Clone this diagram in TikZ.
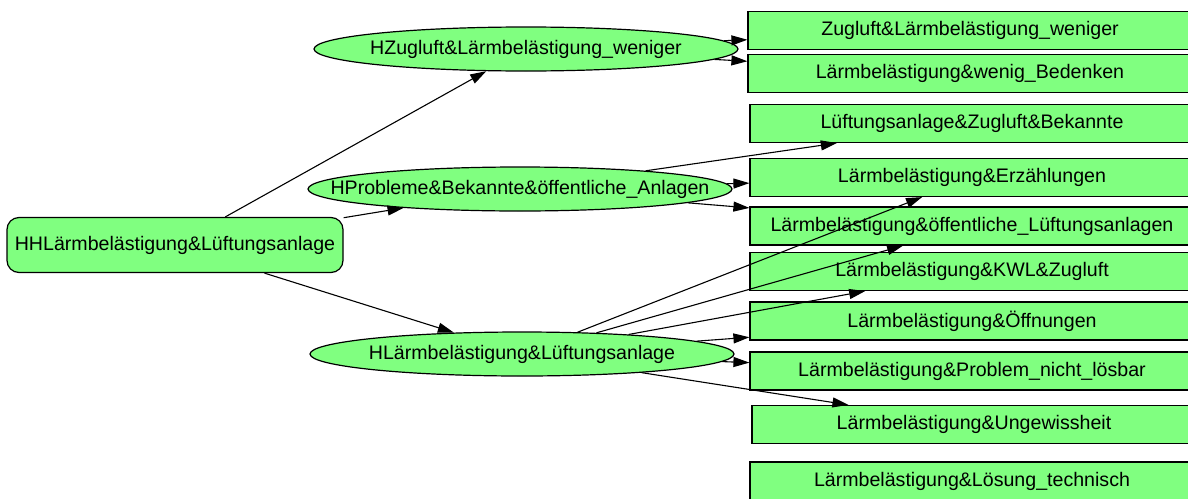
\documentclass[tikz,border=0pt]{standalone}
\usepackage{fontspec}
\setmainfont{Liberation Sans}
\usepackage{xcolor}
\usetikzlibrary{shapes.geometric, arrows.meta}
\definecolor{nodegreen}{RGB}{128,255,128}
% text of a hub: no width of its own, so the ellipse keeps its size
\newcommand{\hubtext}[1]{\makebox[0pt]{#1}}

\begin{document}
\begin{tikzpicture}[x=1pt, y=-1pt,
        % Define the styles for the three kinds of nodes and the edges
        root/.style={draw, fill=nodegreen, line width=1.2pt, rounded corners=12pt,
            minimum width=336pt, minimum height=55pt, inner sep=0pt},
        hub/.style={draw, fill=nodegreen, line width=1.2pt, ellipse,
            minimum width=424pt, minimum height=44pt, inner sep=0pt},
        leaf/.style={draw, fill=nodegreen, line width=1.2pt,
            minimum width=444pt, minimum height=38pt, inner sep=0pt},
        edge/.style={draw, line width=1.1pt, -{Triangle[length=16pt, width=10pt]}}]

        \useasboundingbox (0,0) rectangle (1188,498);
        \fontsize{19.6}{22}\selectfont

        % 1. The root on the left
        \node[root] (HH) at (175,245) {HHLärmbelästigung\&Lüftungsanlage};

        % 2. The three ellipses in the middle
        \node[hub] (HZug) at (526,49) {\hubtext{HZugluft\&Lärmbelästigung\_weniger}};
        \node[hub] (HProb) at (520,189) {\hubtext{HProbleme\&Bekannte\&öffentliche\_Anlagen}};
        \node[hub] (HLaerm) at (522,354) {\hubtext{HLärmbelästigung\&Lüftungsanlage}};

        % 3. The boxes on the right (cut by the right edge)
        \node[leaf] (zugWeniger) at (970,30.5) {Zugluft\&Lärmbelästigung\_weniger};
        \node[leaf] (wenigBedenken) at (970,73.5) {Lärmbelästigung\&wenig\_Bedenken};
        \node[leaf] (lueftBekannte) at (972,123.5) {Lüftungsanlage\&Zugluft\&Bekannte};
        \node[leaf] (erzaehlungen) at (972,177.5) {Lärmbelästigung\&Erzählungen};
        \node[leaf] (oeffLueft) at (972,226) {Lärmbelästigung\&öffentliche\_Lüftungsanlagen};
        \node[leaf] (kwlZug) at (972,271.5) {Lärmbelästigung\&KWL\&Zugluft};
        \node[leaf] (oeffnungen) at (972,321) {Lärmbelästigung\&Öffnungen};
        \node[leaf] (nichtLoesbar) at (972,371) {Lärmbelästigung\&Problem\_nicht\_lösbar};
        \node[leaf] (ungewiss) at (974,424.5) {Lärmbelästigung\&Ungewissheit};
        \node[leaf] (technisch) at (972,481) {Lärmbelästigung\&Lösung\_technisch};

        % 4. Edges from the root
        \draw[edge] (HH) -- (HZug);
        \draw[edge] (HH) -- (HProb);
        \draw[edge] (HH) -- (HLaerm);

        % 5. Edges from the ellipses
        \draw[edge] (HZug) -- (zugWeniger);
        \draw[edge] (HZug) -- (wenigBedenken);
        \draw[edge] (HProb) -- (lueftBekannte);
        \draw[edge] (HProb) -- (erzaehlungen);
        \draw[edge] (HProb) -- (oeffLueft);
        \draw[edge] (HLaerm) -- (erzaehlungen);
        \draw[edge] (HLaerm) -- (oeffLueft);
        \draw[edge] (HLaerm) -- (kwlZug);
        \draw[edge] (HLaerm) -- (oeffnungen);
        \draw[edge] (HLaerm) -- (nichtLoesbar);
        \draw[edge] (HLaerm) -- (ungewiss);

    \end{tikzpicture}
\end{document}
